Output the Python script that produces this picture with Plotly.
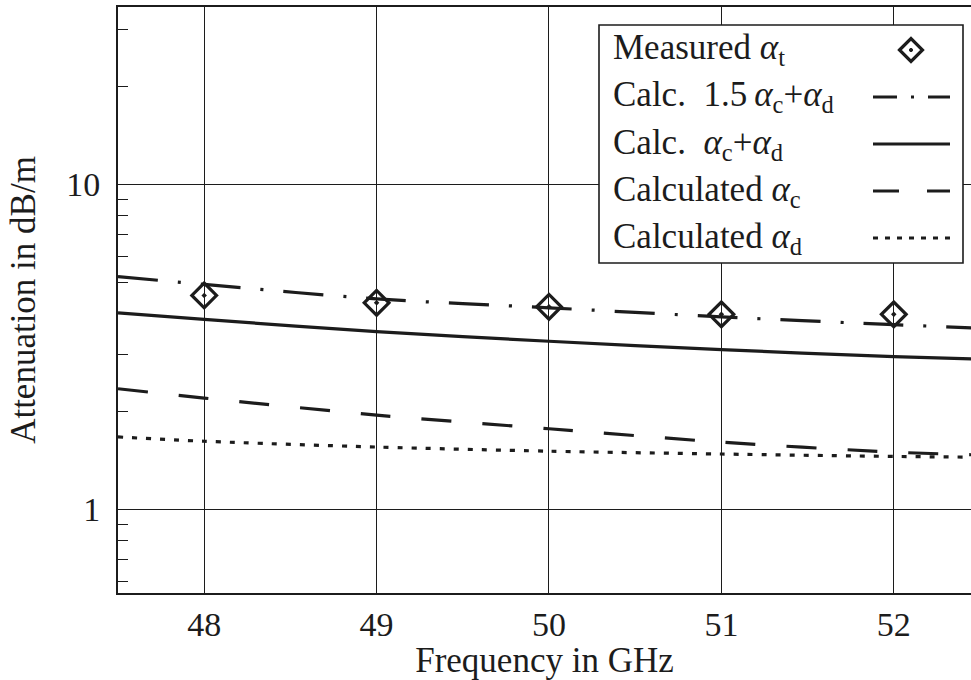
import plotly.graph_objects as go

# Frequency grid of the calculated attenuation curves (GHz)
freq_calc = [47.5, 48, 49, 50, 51, 52, 52.5]
# Calculated attenuation components and combinations (dB/m)
alpha_1p5c_d = [5.20, 4.92, 4.44, 4.17, 3.91, 3.70, 3.61]
alpha_c_d = [4.02, 3.84, 3.52, 3.29, 3.10, 2.95, 2.90]
alpha_c = [2.35, 2.20, 1.95, 1.77, 1.61, 1.50, 1.47]
alpha_d = [1.67, 1.62, 1.555, 1.51, 1.48, 1.455, 1.447]

# Measured total attenuation
freq_meas = [48, 49, 50, 51, 52]
alpha_t = [4.55, 4.32, 4.20, 3.98, 3.98]

x_ticks = [48, 49, 50, 51, 52]
y_major = [1, 10]
y_minor = [0.6, 0.7, 0.8, 0.9, 2, 3, 4, 5, 6, 7, 8, 9, 20, 30]

legend_labels = [
    "Measured <i>α</i><sub>t</sub>",
    "Calc.\u00a0 1.5\u2009<i>α</i><sub>c</sub>+<i>α</i><sub>d</sub>",
    "Calc.\u00a0 <i>α</i><sub>c</sub>+<i>α</i><sub>d</sub>",
    "Calculated <i>α</i><sub>c</sub>",
    "Calculated <i>α</i><sub>d</sub>",
]

INK = "#1c1c1c"
FONT = "Liberation Serif"
FS = 34

W, H = 971, 680
M_L, M_R, M_T, M_B = 118, 0, 7, 87
PW, PH = W - M_L - M_R, H - M_T - M_B


def px_x(p):
    return (p - M_L) / PW


def px_y(p):
    return (H - M_B - p) / PH


fig = go.Figure()

curve_style = [
    (alpha_1p5c_d, "40px,20px,3px,20px"),
    (alpha_c_d, "solid"),
    (alpha_c, "30px,31px"),
    (alpha_d, "5px,9px"),
]
for vals, dash in curve_style:
    fig.add_trace(go.Scatter(
        x=freq_calc, y=vals, mode="lines",
        line=dict(color=INK, width=3.2, dash=dash, shape="spline", smoothing=0.8),
        showlegend=False, hoverinfo="skip",
    ))

fig.add_trace(go.Scatter(
    x=freq_meas, y=alpha_t, mode="markers",
    marker=dict(symbol="diamond-open-dot", size=19, color=INK,
                line=dict(color=INK, width=3.2)),
    showlegend=False, hoverinfo="skip",
))

shapes = []
annotations = []

# Legend frame
box_x0, box_x1 = px_x(599), px_x(963)
box_y0, box_y1 = px_y(263), px_y(25)
shapes.append(dict(type="rect", xref="paper", yref="paper",
                   x0=box_x0, x1=box_x1, y0=box_y0, y1=box_y1,
                   fillcolor="white", line=dict(color=INK, width=1.6),
                   layer="above"))

row_px = [50, 97, 144, 191, 238]
key_x0, key_x1 = px_x(873), px_x(950)
key_dash = [None, "24px,14px,3px,14px", "solid", "26px,28px", "5px,7px"]

for i, label in enumerate(legend_labels):
    yc = px_y(row_px[i])
    annotations.append(dict(
        text=label, xref="paper", yref="paper", x=px_x(611), y=yc,
        xanchor="left", yanchor="middle", showarrow=False,
        font=dict(family=FONT, size=FS + 1, color=INK),
    ))
    if key_dash[i] is not None:
        shapes.append(dict(type="line", xref="paper", yref="paper",
                           x0=key_x0, x1=key_x1, y0=yc, y1=yc,
                           line=dict(color=INK, width=3.2, dash=key_dash[i]),
                           layer="above"))

# Diamond key for the measured points
cx, cy = px_x(911), px_y(row_px[0])
hx, hy = 11.5 / PW, 11.5 / PH
shapes.append(dict(
    type="path", xref="paper", yref="paper",
    path=f"M {cx - hx},{cy} L {cx},{cy + hy} L {cx + hx},{cy} L {cx},{cy - hy} Z",
    line=dict(color=INK, width=3.2), fillcolor="rgba(0,0,0,0)", layer="above"))
dx, dy = 1.6 / PW, 1.6 / PH
shapes.append(dict(type="circle", xref="paper", yref="paper",
                   x0=cx - dx, x1=cx + dx, y0=cy - dy, y1=cy + dy,
                   fillcolor=INK, line=dict(color=INK, width=1), layer="above"))

fig.update_layout(
    width=W, height=H,
    margin=dict(l=M_L, r=M_R, t=M_T, b=M_B),
    paper_bgcolor="white", plot_bgcolor="white",
    font=dict(family=FONT, size=FS, color=INK),
    shapes=shapes, annotations=annotations,
    showlegend=False,
)

fig.update_xaxes(
    range=[47.5, 52.448], tickmode="array", tickvals=x_ticks,
    ticktext=[str(v) for v in x_ticks],
    showgrid=True, gridcolor=INK, gridwidth=1.3, zeroline=False,
    showline=True, mirror=True, linecolor=INK, linewidth=2,
    ticks="", ticklabelstandoff=0,
    title=dict(text="Frequency in GHz", standoff=8, font=dict(size=FS + 1)),
)

fig.update_yaxes(
    type="log", range=[-0.2573, 1.5455], tickmode="array",
    tickvals=y_major, ticktext=[str(v) for v in y_major],
    showgrid=True, gridcolor=INK, gridwidth=1.3, zeroline=False,
    showline=True, mirror=False, linecolor=INK, linewidth=2,
    ticks="", ticklabelstandoff=9,
    minor=dict(tickmode="array", tickvals=y_minor, ticks="inside",
               ticklen=10, tickwidth=1.3, tickcolor=INK, showgrid=False),
    title=dict(text="Attenuation in dB/m", standoff=20, font=dict(size=FS + 1)),
)

fig.write_html("out.html")
